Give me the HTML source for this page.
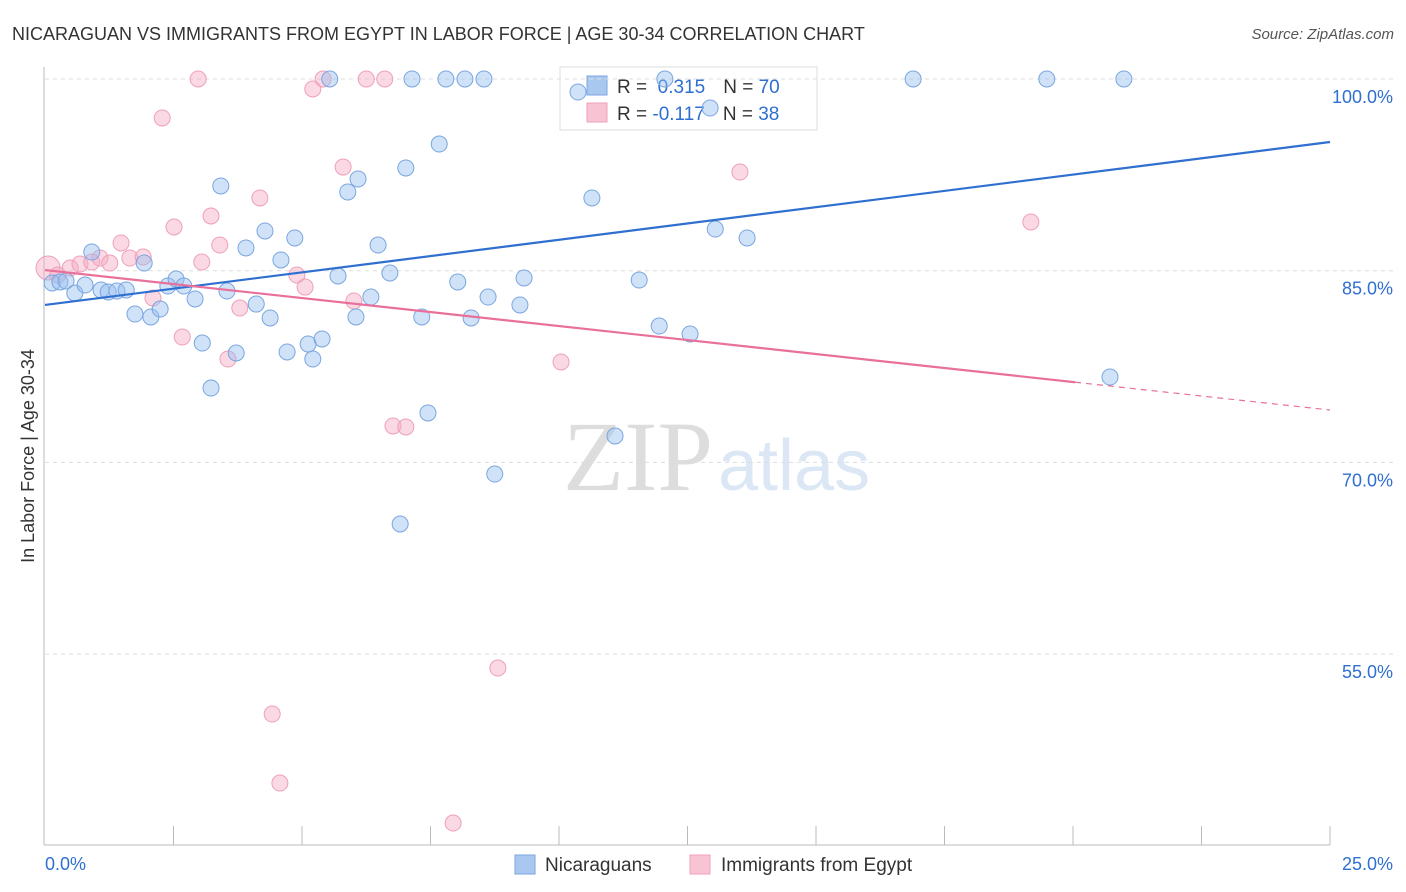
<!DOCTYPE html>
<html><head><meta charset="utf-8"><style>
body{margin:0;background:#fff;font-family:"Liberation Sans",sans-serif;}
#c{position:relative;width:1406px;height:892px;overflow:hidden;}
</style></head><body>
<div id="c">
<svg id="s" width="1406" height="892" xmlns="http://www.w3.org/2000/svg">
<text x="12" y="40" font-size="18" fill="#333">NICARAGUAN VS IMMIGRANTS FROM EGYPT IN LABOR FORCE | AGE 30-34 CORRELATION CHART</text>
<text x="1394" y="39" font-size="15" fill="#555" font-style="italic" text-anchor="end">Source: ZipAtlas.com</text>
<text x="713" y="490" font-size="100" fill="#ddd" font-family="Liberation Serif,serif" text-anchor="end">ZIP</text>
<text x="718" y="490" font-size="72" fill="#dce7f5">atlas</text>
<text transform="translate(34,456) rotate(-90)" font-size="18" fill="#333" text-anchor="middle">In Labor Force | Age 30-34</text>
<g>
<rect x="560" y="67" width="257" height="63" fill="#fff" stroke="#ddd"/>
<rect x="587" y="76" width="20" height="19" fill="#a9c8f0" stroke="#7aa6e0"/>
<rect x="587" y="103" width="20" height="19" fill="#f8c3d3" stroke="#eea0b8"/>
<text x="617" y="93" font-size="19" fill="#333">R = <tspan fill="#2f6fd0">&#160;0.315</tspan><tspan dx="18">N = </tspan><tspan fill="#2f6fd0">70</tspan></text>
<text x="617" y="120" font-size="19" fill="#333">R = <tspan fill="#2f6fd0">-0.117</tspan><tspan dx="18">N = </tspan><tspan fill="#2f6fd0">38</tspan></text>
</g>
<g id="grid"></g><g id="marks"></g>
<g>
<rect x="515" y="855" width="20" height="19" fill="#a9c8f0" stroke="#7aa6e0"/>
<text x="545" y="871" font-size="19" fill="#333">Nicaraguans</text>
<rect x="690" y="855" width="20" height="19" fill="#f8c3d3" stroke="#eea0b8"/>
<text x="721" y="871" font-size="19" fill="#333">Immigrants from Egypt</text>
</g>
</svg></div>
<script>
const xTicks=[0,25];
const yTicks=[100,85,70,55];
const blueX=[0.14,0.29,0.41,0.58,0.78,0.91,1.09,1.23,1.40,1.58,1.75,1.93,2.06,2.24,2.39,2.55,2.70,2.92,3.06,3.23,3.42,3.54,3.72,3.91,4.11,4.28,4.38,4.59,4.71,4.86,5.12,5.21,5.39,5.54,5.70,5.89,6.05,6.09,6.34,6.48,6.71,6.91,7.02,7.14,7.33,7.45,7.67,7.80,8.03,8.17,8.29,8.54,8.62,8.75,9.24,9.32,10.37,10.64,11.09,11.56,11.95,12.06,12.55,12.94,13.04,13.66,16.89,19.49,20.72,20.99];
const blueY=[84.04,84.12,84.19,83.25,83.88,86.46,83.49,83.33,83.41,83.49,81.61,85.60,81.38,82.00,83.80,84.35,83.80,82.79,79.34,75.82,91.63,83.41,78.56,86.78,82.39,88.11,81.30,85.84,78.64,87.56,79.26,78.09,79.66,100,84.59,91.16,81.38,92.18,82.94,87.01,84.82,65.18,93.04,100,81.38,73.87,94.91,100,84.12,100,81.30,100,82.94,69.09,82.32,84.43,98.98,90.69,72.07,84.27,80.67,100,80.05,97.73,88.26,87.56,100,100,76.68,100];
const pinkX=[0.06,0.25,0.49,0.68,0.91,1.07,1.26,1.48,1.65,1.91,2.10,2.28,2.51,2.67,2.98,3.05,3.23,3.40,3.56,3.79,4.18,4.42,4.57,4.90,5.06,5.21,5.41,5.80,6.01,6.25,6.61,6.77,7.02,7.94,8.81,10.04,13.52,19.18];
const pinkY=[85.21,84.66,85.21,85.52,85.68,85.99,85.60,87.17,85.99,86.07,82.86,96.95,88.42,79.81,100,85.68,89.28,87.01,78.09,82.08,90.69,50.31,44.91,84.66,83.72,99.22,100,93.11,82.63,100,100,72.85,72.77,41.78,53.91,77.86,92.72,88.81];
const blueTrend=[82.32,95.07];
const pinkTrend=[85.05,74.10];
const pinkSolidEnd=20.04;
const NS='http://www.w3.org/2000/svg';
const X=v=>45+v/25*1285, Y=v=>79+(100-v)*12.78;
function mk(t,a,p){const e=document.createElementNS(NS,t);for(const k in a)e.setAttribute(k,a[k]);p.appendChild(e);return e;}
const g=document.getElementById('grid'),m=document.getElementById('marks');
yTicks.forEach(v=>{
const l=mk('line',{x1:45,x2:1393,y1:Y(v),y2:Y(v),stroke:'#ddd','stroke-dasharray':'4,4'},g);


const t=mk('text',{x:1393,y:Y(v)+24,'font-size':18,fill:'#2f6fd0','text-anchor':'end'},g);t.textContent=v.toFixed(1)+'%';


});
mk('line',{x1:44,x2:44,y1:67,y2:845,stroke:'#bbb'},g);
mk('line',{x1:44,x2:1330,y1:845,y2:845,stroke:'#bbb'},g);
for(let i=1;i<=10;i++){const x=X(i*2.5);mk('line',{x1:x,x2:x,y1:826,y2:845,stroke:'#bbb'},g);}
xTicks.forEach((v,i)=>{const t=mk('text',{x:i?1393:45,y:870,'font-size':18,fill:'#2f6fd0','text-anchor':i?'end':'start'},g);t.textContent=v.toFixed(1)+'%';

});
pinkX.forEach((v,i)=>{const c=mk('circle',{cx:X(v),cy:Y(pinkY[i]),r:i===0?12:8,fill:'rgba(245,170,195,0.45)',stroke:'#eea0b8','stroke-width':1},m);

});
blueX.forEach((v,i)=>{const c=mk('circle',{cx:X(v),cy:Y(blueY[i]),r:8,fill:'rgba(150,190,240,0.45)',stroke:'#7aa6e0','stroke-width':1},m);

});
const bl=mk('line',{x1:X(0),y1:Y(blueTrend[0]),x2:X(25),y2:Y(blueTrend[1]),stroke:'#2f6fd0','stroke-width':2.2},m);


const pe=pinkTrend[0]+(pinkTrend[1]-pinkTrend[0])*pinkSolidEnd/25;
const pl=mk('line',{x1:X(0),y1:Y(pinkTrend[0]),x2:X(pinkSolidEnd),y2:Y(pe),stroke:'#e8709a','stroke-width':2.2},m);


const pd=mk('line',{x1:X(pinkSolidEnd),y1:Y(pe),x2:X(25),y2:Y(pinkTrend[1]),stroke:'#e8709a','stroke-width':1.2,'stroke-dasharray':'6,5'},m);


</script>
</body></html>
